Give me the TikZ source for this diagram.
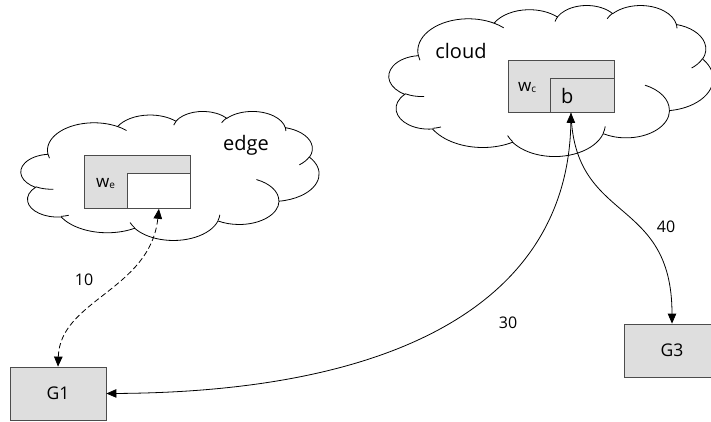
\documentclass[tikz,border=0pt]{standalone}
\usepackage{fontspec}
\setmainfont{Open Sans}
\usetikzlibrary{arrows.meta}
\tikzset{
  ooarc/.style n args={4}{x radius=#1, y radius=#2,
    start angle={atan2(#1*sin(#3),#2*cos(#3))},
    delta angle={mod(atan2(#1*sin(#3+#4),#2*cos(#3+#4))-atan2(#1*sin(#3),#2*cos(#3))+720,360)}},
  cloudline/.style={draw=black, line width=0.8pt},
  wbox/.style={draw=black!70, fill=black!13, line width=0.8pt, inner sep=0pt},
  gbox/.style={wbox, minimum width=96pt, minimum height=53pt, font=\fontsize{17.5}{20}\selectfont},
  lbl/.style={font=\fontsize{16}{19}\selectfont, inner sep=0pt},
  txt/.style={font=\fontsize{17}{20}\selectfont, inner sep=0pt},
  bigtxt/.style={font=\fontsize{20}{24}\selectfont, inner sep=0pt},
  conn/.style={line width=0.8pt, draw=black}
}
\newcommand\officecloud{%
  \fill[white] (39.00,143.70)
   arc[ooarc={67.53}{91.90}{-190.48748}{123.78053}]
   arc[ooarc={53.33}{72.67}{-144.10238}{89.94523}]
   arc[ooarc={43.65}{59.45}{-145.80792}{99.72302}]
   arc[ooarc={48.57}{65.95}{-130.98607}{117.24173}]
   arc[ooarc={53.33}{72.73}{-78.70888}{109.02692}]
   arc[ooarc={67.75}{92.20}{-46.26725}{130.269}]
   arc[ooarc={57.85}{78.67}{0.62502}{114.03333}]
   arc[ooarc={67.52}{92.15}{22.4516}{115.17255}]
   arc[ooarc={77.20}{105.43}{66.24263}{75.71102}]
   arc[ooarc={43.60}{59.18}{-274.94208}{146.73557}]
   arc[ooarc={43.45}{59.45}{-246.8285}{152.51885}]
   -- cycle;
  \draw[cloudline] (39.00,143.70)
   arc[ooarc={67.53}{91.90}{-190.48748}{123.78053}]
   arc[ooarc={53.33}{72.67}{-144.10238}{89.94523}]
   arc[ooarc={43.65}{59.45}{-145.80792}{99.72302}]
   arc[ooarc={48.57}{65.95}{-130.98607}{117.24173}]
   arc[ooarc={53.33}{72.73}{-78.70888}{109.02692}]
   arc[ooarc={67.75}{92.20}{-46.26725}{130.269}]
   arc[ooarc={57.85}{78.67}{0.62502}{114.03333}]
   arc[ooarc={67.52}{92.15}{22.4516}{115.17255}]
   arc[ooarc={77.20}{105.43}{66.24263}{75.71102}]
   arc[ooarc={43.60}{59.18}{-274.94208}{146.73557}]
   arc[ooarc={43.45}{59.45}{-246.8285}{152.51885}]
   -- cycle;
  \draw[cloudline]
   (46.93,261.77) arc[ooarc={43.45}{59.45}{86.742}{26.4295}]
   (69.28,348.99) arc[ooarc={43.60}{59.18}{73.61047}{11.44747}]
   (164.78,390.90) arc[ooarc={67.52}{92.15}{137.62415}{14.0811}]
   (288.27,347.51) arc[ooarc={67.52}{92.15}{6.45327}{15.99835}]
   (341.29,229.54) arc[ooarc={57.85}{78.67}{-70.29235}{70.91737}]
   (417.98,153.54) arc[ooarc={53.33}{72.73}{30.31803}{27.7515}]
   (383.24,54.26) arc[ooarc={48.57}{65.95}{-13.74433}{14.8589}]
   (290.78,39.52) arc[ooarc={48.57}{65.95}{-149.18145}{18.19537}]
   (221.41,47.20) arc[ooarc={43.65}{59.45}{-163.49427}{17.68635}]
   (140.00,51.92) arc[ooarc={67.53}{91.90}{-66.70695}{12.31935}]
   (41.27,157.89) arc[ooarc={67.53}{91.90}{157.65435}{11.85817}];
}
\begin{document}
\begin{tikzpicture}[x=1pt,y=-1pt]
\useasboundingbox (0,0) rectangle (711,421);
% edge cloud
\begin{scope}[shift={(21,111)}, x=0.68981pt, y=-0.29861pt]
  \officecloud
\end{scope}
% cloud cloud
\begin{scope}[shift={(389,5)}, x=0.75pt, y=-0.34954pt]
  \officecloud
\end{scope}
\node[bigtxt] (edgelbl) at (246,145) {edge};
\node[bigtxt] (cloudlbl) at (461,50.5) {cloud};
% edge box
\node[wbox, minimum width=106pt, minimum height=53pt, anchor=north west] (ebox) at (84,155) {};
\node[wbox, fill=white, minimum width=63pt, minimum height=35pt, anchor=south east] (ein) at (ebox.south east) {};
\node[txt, anchor=base west] (we) at (96,187) {w\raisebox{-1pt}{\fontsize{10}{10}\selectfont e}};
% cloud box
\node[wbox, minimum width=106pt, minimum height=52pt, anchor=north west] (cbox) at (508,60) {};
\node[wbox, minimum width=64pt, minimum height=34pt, anchor=south east] (bin) at (cbox.south east) {};
\node[txt, anchor=base west] (wc) at (518,91) {w\raisebox{-1pt}{\fontsize{10}{10}\selectfont c}};
\node[bigtxt, anchor=base west] (bl) at (561,103) {b};
% gateways
\node[gbox] (g1) at (58,393.5) {G1};
\node[gbox] (g3) at (672,350.5) {G3};
% connectors
\draw[conn, dash pattern=on 5.5pt off 3pt, {Triangle[length=10pt,width=8.5pt]}-{Triangle[length=10pt,width=8.5pt]}]
  (g1.north) .. controls (60,300) and (150,290) .. (ein.south);
\draw[conn, {Triangle[length=10pt,width=8.5pt]}-{Triangle[length=10pt,width=8.5pt]}]
  ([xshift=21pt]bin.south west) .. controls (568,300) and (400,392) .. (g1.east);
\draw[conn, -{Triangle[length=10pt,width=8.5pt]}]
  ([xshift=21pt]bin.south west) .. controls (574,225) and (672,195) .. (g3.north);
% labels
\node[lbl] (l10) at (84,280) {10};
\node[lbl] (l30) at (508,323) {30};
\node[lbl] (l40) at (666,227) {40};
\end{tikzpicture}
\end{document}
